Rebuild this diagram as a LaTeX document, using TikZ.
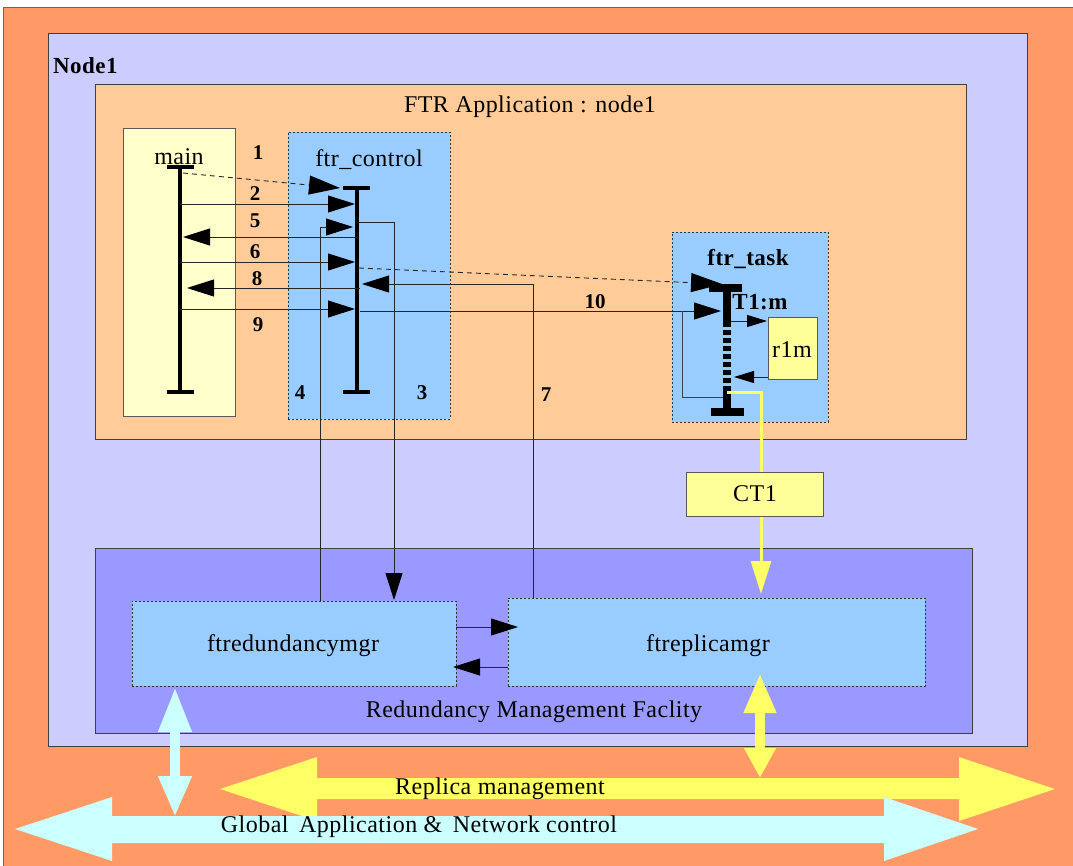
\documentclass[tikz,border=0pt]{standalone}
\usepackage{fontspec}
\setmainfont{Liberation Serif}
\newfontfamily\lab[LetterSpace=2]{Liberation Serif}
\usetikzlibrary{arrows.meta}
\definecolor{siteorange}{HTML}{FF9966}
\definecolor{nodelilac}{HTML}{CCCCFF}
\definecolor{apppeach}{HTML}{FFCC99}
\definecolor{mainyellow}{HTML}{FFFFCC}
\definecolor{taskblue}{HTML}{99CCFF}
\definecolor{resyellow}{HTML}{FFFF99}
\definecolor{rmfblue}{HTML}{9999FF}
\definecolor{busyellow}{HTML}{FFFF66}
\definecolor{buscyan}{HTML}{CCFFFF}
\tikzset{
  panel/.style={draw=black!75, line width=0.9pt, anchor=north west, inner sep=0pt, outer sep=0pt},
  dbox/.style={draw=black!80, fill=taskblue, dash pattern=on 2pt off 2pt, line width=0.8pt,
    anchor=north west, inner sep=0pt, outer sep=0pt},
  lab/.style={font=\lab\fontsize{24}{26}\selectfont, inner sep=0pt},
  blab/.style={font=\lab\bfseries\fontsize{23}{25}\selectfont, inner sep=0pt},
  num/.style={font=\bfseries\fontsize{21}{23}\selectfont, inner sep=0pt},
  life/.style={line width=4pt, line cap=butt},
  tasklife/.style={line width=8pt, line cap=butt},
  msg/.style={line width=0.9pt, draw=black!85, -{Triangle[length=27pt,width=17pt,color=black]}},
  dashmsg/.style={line width=0.9pt, draw=black!85, dash pattern=on 5pt off 4pt,
    -{Triangle[length=31pt,width=19pt,color=black]}},
  smallmsg/.style={line width=0.9pt, draw=black!85, -{Triangle[length=20pt,width=12pt,color=black]}},
  plain/.style={line width=0.9pt, draw=black!75},
}
\begin{document}
\begin{tikzpicture}[x=1pt,y=-1pt]
\clip (0,0) rectangle (1073,865);
\fill[white] (0,0) rectangle (1073,865);

% site, node and application frames
\node[panel, fill=siteorange, draw=black!60, minimum width=1100pt, minimum height=900pt] (site) at (3,7) {};
\node[panel, fill=nodelilac, minimum width=979pt, minimum height=713pt] (node1) at (48,33) {};
\node[blab, anchor=west] (node1lbl) at (53,66) {Node1};
\node[panel, fill=apppeach, minimum width=871pt, minimum height=355pt] (app) at (95,84) {};
\node[lab] (applbl) at (530,107) {FTR Application : node1};

% task containers
\node[panel, fill=mainyellow, draw=black!65, minimum width=112pt, minimum height=288pt] (mainbox) at (123,128) {};
\node[lab] (mainlbl) at (179,157) {main};
\node[dbox, minimum width=162pt, minimum height=287pt] (ctrlbox) at (288,132) {};
\node[lab] (ctrllbl) at (369,160) {ftr\_control};
\node[dbox, minimum width=156pt, minimum height=190pt] (taskbox) at (672,232) {};
\node[blab] (tasklbl) at (748,259) {ftr\_task};
\node[blab] (t1mlbl) at (760,302) {T1:m};
\node[panel, fill=resyellow, draw=black!65, minimum width=49pt, minimum height=62pt] (r1m) at (768,317) {};
\node[lab] (r1mlbl) at (792,350) {r1m};

% redundancy management facility
\node[panel, fill=rmfblue, minimum width=877pt, minimum height=185pt] (rmf) at (95,548) {};
\node[lab] (rmflbl) at (534,712) {Redundancy Management Faclity};
\node[dbox, minimum width=324pt, minimum height=85pt] (rdm) at (132,601) {};
\node[lab] (rdmlbl) at (293,646) {ftredundancymgr};
\node[dbox, minimum width=417pt, minimum height=88pt] (rep) at (508,598) {};
\node[lab] (replbl) at (708,646) {ftreplicamgr};

% lifelines
\coordinate (mtop) at (180,167); \coordinate (mbot) at (180,392);
\draw[life] (mtop) -- (mbot);
\draw[life] (167,167) -- (194,167);
\draw[life] (167,392) -- (194,392);
\coordinate (ctop) at (357,188); \coordinate (cbot) at (357,392);
\draw[life] (ctop) -- (cbot);
\draw[life] (343,188) -- (370,188);
\draw[life] (343,392) -- (370,392);
\coordinate (ttop) at (727,288); \coordinate (tbot) at (727,412);
\draw[tasklife] (ttop) -- (727,322);
\draw[tasklife, dash pattern=on 5pt off 3pt] (727,322) -- (727,388);
\draw[tasklife] (727,388) -- (tbot);
\draw[tasklife] (709,288) -- (742,288);
\draw[tasklife] (711,412) -- (744,412);

% messages
\coordinate (m1) at (183,173); \coordinate (c1) at (340,188);
\draw[dashmsg] (m1) -- (c1);
\coordinate (m2) at (180,204); \coordinate (c2) at (357,204);
\draw[msg, shorten >=2pt] (m2) -- (c2);
\coordinate (c5) at (357,237); \coordinate (m5) at (180,237);
\draw[msg, shorten >=3pt] (c5) -- (m5);
\coordinate (r4) at (320,601); \coordinate (c4) at (357,227);
\draw[msg, shorten >=4pt] (r4) |- (c4);
\coordinate (c3) at (359,222); \coordinate (r3) at (394,600);
\draw[msg] (c3) -| (r3);
\coordinate (m6) at (180,262); \coordinate (c6) at (357,262);
\draw[msg, shorten >=2pt] (m6) -- (c6);
\coordinate (cd) at (359,268); \coordinate (td) at (722,284);
\draw[dashmsg] (cd) -- (td);
\coordinate (p7) at (533,598); \coordinate (c7) at (357,284);
\draw[msg, shorten >=5pt] (p7) |- (c7);
\coordinate (c8) at (360,288); \coordinate (m8) at (180,288);
\draw[msg, shorten >=7pt] (c8) -- (m8);
\coordinate (m9) at (180,309); \coordinate (c9) at (357,309);
\draw[msg, shorten >=2pt] (m9) -- (c9);
\coordinate (c10) at (360,311); \coordinate (t10) at (727,311);
\draw[msg, shorten >=6pt] (c10) -- (t10);
\coordinate (l10) at (682,311); \coordinate (tl) at (723,397);
\draw[plain] (l10) |- (tl);
\coordinate (tr1) at (731,321); \coordinate (rin) at (767,321);
\draw[smallmsg] (tr1) -- (rin);
\coordinate (rout) at (768,377); \coordinate (tr2) at (734,377);
\draw[smallmsg] (rout) -- (tr2);

% channel CT1 to the replica manager
\coordinate (ty) at (727,392); \coordinate (yr) at (761,594);
\draw[busyellow, line width=3pt, -{Triangle[length=33pt,width=20pt]}] (ty) -| (yr);
\node[panel, fill=resyellow, draw=black!65, minimum width=137pt, minimum height=44pt] (ct1) at (686,472) {};
\node[lab] (ct1lbl) at (755,494) {CT1};

% manager interplay
\coordinate (rdmout) at (456,627); \coordinate (repin) at (518,627);
\draw[msg] (rdmout) -- (repin);
\coordinate (repout) at (508,667); \coordinate (rdmin) at (453,667);
\draw[msg] (repout) -- (rdmin);

% numbering
\node[num] (n1) at (258,153) {1};
\node[num] (n2) at (255,194) {2};
\node[num] (n5) at (255,221) {5};
\node[num] (n6) at (255,252) {6};
\node[num] (n8) at (257,279) {8};
\node[num] (n9) at (258,325) {9};
\node[num] (n4) at (300,393) {4};
\node[num] (n3) at (422,393) {3};
\node[num] (n7) at (546,395) {7};
\node[num] (n10) at (595,302) {10};

% buses
\fill[busyellow] (220,789) -- (317,757) -- (317,778) -- (959,778) -- (959,757) -- (1055,789)
  -- (959,821) -- (959,799) -- (317,799) -- (317,821) -- cycle;
\node[lab] (replbus) at (500,789) {Replica management};
\fill[buscyan] (15,829) -- (112,797) -- (112,816) -- (884,816) -- (884,797) -- (978,829)
  -- (884,861) -- (884,843) -- (112,843) -- (112,861) -- cycle;
\node[lab] (globbus) at (419,827) {Global\hspace{4pt} Application \&\hspace{4pt} Network control};

\coordinate (ya) at (760,673); \coordinate (yb) at (760,778);
\draw[busyellow, line width=10pt, line cap=butt,
  {Triangle[length=40pt,width=30pt]}-{Triangle[length=30pt,width=30pt]}] (ya) -- (yb);
\coordinate (ca) at (175,687); \coordinate (cb) at (175,817);
\draw[buscyan, line width=10pt, line cap=butt,
  {Triangle[length=45pt,width=31pt]}-{Triangle[length=41pt,width=31pt]}] (ca) -- (cb);
\end{tikzpicture}
\end{document}
